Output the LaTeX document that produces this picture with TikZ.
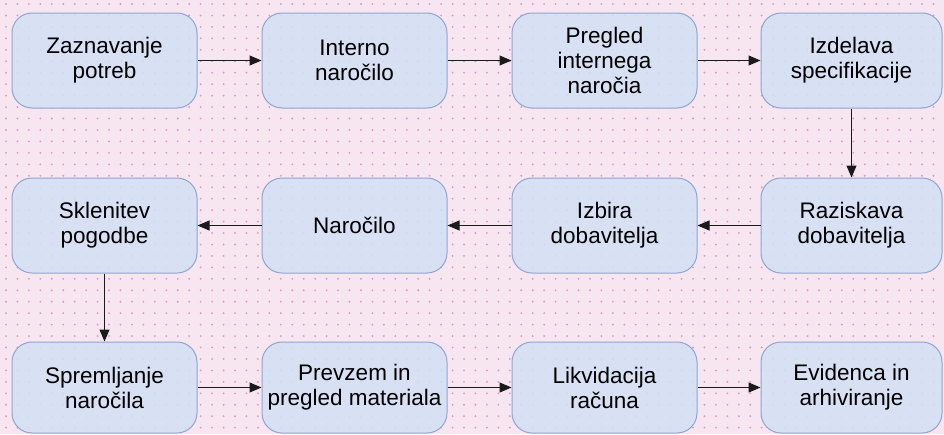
\documentclass[tikz,border=0pt]{standalone}
\usepackage{fontspec}
\setmainfont{Liberation Sans}
\usetikzlibrary{arrows.meta}
\definecolor{bgpink}{HTML}{F7E6EF}
\definecolor{dotpink}{HTML}{DC98CE}
\definecolor{boxfill}{HTML}{D4E0F5}
\definecolor{boxline}{HTML}{8FA5D2}
\definecolor{arrowc}{HTML}{1A1A1A}
\tikzset{
  procbox/.style={draw=boxline, line width=1pt, fill=boxfill, fill opacity=0.88, text opacity=1,
    rounded corners=20pt, minimum width=185pt, minimum height=95pt, align=center,
    inner sep=2pt, font=\fontsize{22.5}{25}\selectfont, text=black},
  lastbox/.style={procbox, minimum width=181pt},
  conn/.style={draw=arrowc, line width=1pt, -{Triangle[length=12pt,width=10pt]}}
}
\begin{document}
\begin{tikzpicture}[x=1pt,y=-1pt]
\useasboundingbox (0,0) rectangle (944,434);
\fill[bgpink] (0,0) rectangle (944,434);
\foreach \i in {0,...,82}{
  \foreach \j in {0,...,37}{
    \fill[dotpink] (6+\i*11.45, 4+\j*11.45) circle (1.05);
  }
}
% row 1
\node[procbox] (n1) at (104.5,60.5) {Zaznavanje\\potreb};
\node[procbox] (n2) at (354.5,60.5) {Interno\\naročilo};
\node[procbox] (n3) at (604.5,60.5) {Pregled\\internega\\naročia};
\node[lastbox] (n4) at (851.5,60.5) {Izdelava\\specifikacije};
% row 2
\node[procbox] (n8) at (104.5,225.5) {Sklenitev\\pogodbe};
\node[procbox] (n7) at (354.5,225.5) {Naročilo};
\node[procbox] (n6) at (604.5,225.5) {Izbira\\dobavitelja};
\node[lastbox] (n5) at (851.5,225.5) {Raziskava\\dobavitelja};
% row 3
\node[procbox, minimum height=91pt] (n9) at (104.5,387.5) {Spremljanje\\naročila};
\node[procbox, minimum height=91pt] (n10) at (354.5,387.5) {Prevzem in\\pregled materiala};
\node[procbox, minimum height=91pt] (n11) at (604.5,387.5) {Likvidacija\\računa};
\node[lastbox, minimum height=91pt] (n12) at (851.5,387.5) {Evidenca in\\arhiviranje};
% connectors
\draw[conn] (n1) -- (n2);
\draw[conn] (n2) -- (n3);
\draw[conn] (n3) -- (n4);
\draw[conn] (n4) -- (n5);
\draw[conn] (n5) -- (n6);
\draw[conn] (n6) -- (n7);
\draw[conn] (n7) -- (n8);
\draw[conn] (n8) -- (n9);
\draw[conn] (n9) -- (n10);
\draw[conn] (n10) -- (n11);
\draw[conn] (n11) -- (n12);
\end{tikzpicture}
\end{document}
